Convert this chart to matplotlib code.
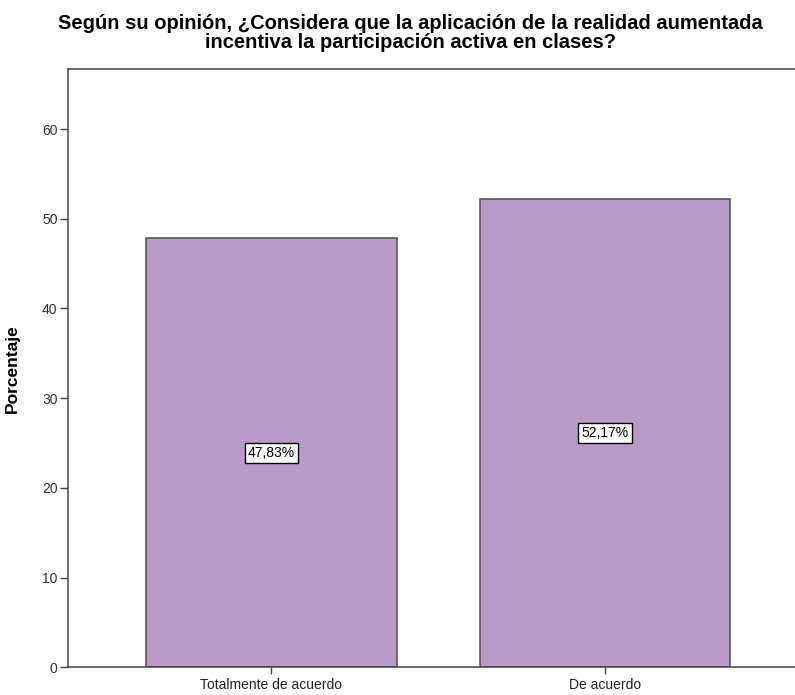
import matplotlib
matplotlib.use("Agg")
import matplotlib.pyplot as plt

plt.rcParams['font.family'] = ['Liberation Sans', 'DejaVu Sans']

# Survey responses (percentages)
categories = ["Totalmente de acuerdo", "De acuerdo"]
percentages = [47.83, 52.17]
y_ticks = [0, 10, 20, 30, 40, 50, 60]

title = ("Según su opinión, ¿Considera que la aplicación de la realidad aumentada\n"
         "incentiva la participación activa en clases?")

W, H = 795, 695
fig = plt.figure(figsize=(W / 100, H / 100), dpi=100)

# Axes in pixel terms: left 68, right 808, top 69, bottom 667
left, right, top, bottom = 68, 808, 69, 667.3
ax = fig.add_axes([left / W, (H - bottom) / H, (right - left) / W, (bottom - top) / H])

positions = list(range(len(categories)))
ax.bar(positions, percentages, width=0.752, color="#B89BC9",
       edgecolor="#4D4D4D", linewidth=1.1, zorder=2)

for x, v in zip(positions, percentages):
    ax.text(x, v / 2, f"{v:.2f}%".replace(".", ","), ha="center", va="center",
            fontsize=10, color="black", zorder=3,
            bbox=dict(boxstyle="square,pad=0.22", facecolor="white",
                      edgecolor="black", linewidth=1.0))

ax.set_xlim(-0.610, 1.609)
ax.set_ylim(0, 66.7)
ax.set_xticks(positions)
ax.set_xticklabels(categories, fontsize=10, color="#222222")
ax.set_yticks(y_ticks)
ax.set_yticklabels([str(t) for t in y_ticks], fontsize=10, color="#333333")

for side in ("left", "bottom", "top"):
    ax.spines[side].set_color("#444444")
    ax.spines[side].set_linewidth(1.1)
ax.spines["right"].set_visible(False)

ax.tick_params(axis="y", direction="out", length=6, width=1.0, color="#444444", pad=1.5)
ax.tick_params(axis="x", direction="out", length=5, width=1.0, color="#444444", pad=3)

ax.set_ylabel("Porcentaje", fontsize=12.5, fontweight="bold")
ax.yaxis.set_label_coords(-(left - 20) / (right - left), 0.5)

# Two-line bold title (baseline of the last line)
fig.text(410.5 / W, 1 - 48 / H, title, ha="center", va="baseline",
         multialignment="center", fontsize=14.5, fontweight="bold", linespacing=0.97)

fig.savefig("out.png", dpi=100, facecolor="white")
